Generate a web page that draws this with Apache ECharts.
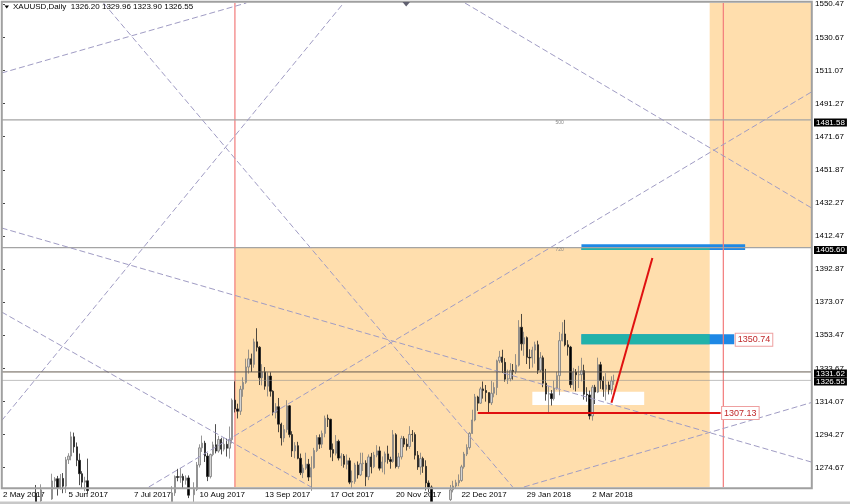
<!DOCTYPE html>
<html><head><meta charset="utf-8">
<script src="https://cdn.jsdelivr.net/npm/echarts@6/dist/echarts.min.js"></script>
<style>html,body{margin:0;padding:0;background:#fff}#c{width:850px;height:504px}</style>
</head><body><div id="c"></div>
<script>
// ---------------- data ----------------
const symbol = 'XAUUSD', timeframe = 'Daily';
const firstDate = '2017-05-02';
const skipDays = ['2017-12-25', '2018-01-01'];
const totalSlots = 297;               // trading-day slots incl. empty future space
const labelEvery = 24;                // MT4 time-scale labelling step (bars)
const yTicks = [1550.47,1530.67,1511.07,1491.27,1471.67,1451.87,1432.27,1412.47,1392.87,1373.07,1353.47,1333.67,1314.07,1294.27,1274.67];
const yMin = 1263.1, yMax = 1551.2;

// daily bars [open, high, low, close]
const may2017 = [
 [1255.4,1259.5,1251.5,1256.0],[1256.0,1257.8,1246.2,1248.3],[1248.3,1249.0,1226.9,1228.0],[1228.0,1236.6,1226.0,1227.8],
 [1227.8,1230.2,1222.0,1226.5],[1226.5,1227.0,1214.2,1216.4],[1216.4,1222.0,1215.0,1219.3],[1219.3,1227.5,1217.1,1225.4],[1225.4,1232.4,1224.6,1228.0],
 [1228.0,1236.6,1227.9,1230.6],[1230.6,1237.9,1229.6,1236.4],[1236.4,1262.8,1234.7,1259.5],[1259.5,1264.3,1245.6,1253.4],[1253.4,1258.2,1250.3,1254.8],
 [1254.8,1264.7,1253.7,1261.4],[1261.4,1262.2,1248.2,1251.4],[1251.4,1260.6,1249.9,1257.6],[1257.6,1260.7,1251.2,1256.0],[1256.0,1271.0,1255.5,1266.7],
 [1266.7,1269.0,1263.0,1268.0],[1268.0,1269.7,1258.0,1262.5],[1262.5,1270.8,1261.5,1268.2]];
const jun2017 = [
 [1268.2,1271.4,1259.4,1263.6],[1263.6,1281.0,1259.5,1279.3],
 [1279.3,1283.2,1276.8,1281.5],[1281.5,1296.0,1279.0,1293.0],[1293.0,1295.5,1283.5,1287.0],[1287.0,1289.6,1275.5,1279.0],[1279.0,1283.0,1264.2,1271.0],
 [1271.0,1272.5,1262.5,1266.0],[1266.0,1269.2,1260.6,1266.8],[1266.8,1280.0,1259.0,1261.0],[1261.0,1262.0,1250.6,1254.5],[1254.5,1257.5,1251.6,1254.6],
 [1254.6,1256.5,1243.9,1246.5],[1246.5,1249.8,1240.8,1243.8],[1243.8,1250.5,1242.5,1246.8],[1246.8,1256.0,1245.0,1250.5],[1250.5,1258.0,1249.8,1256.5],
 [1256.5,1258.0,1236.5,1245.5],[1245.5,1253.7,1244.0,1250.5],[1250.5,1254.7,1245.9,1249.6],[1249.6,1253.9,1243.8,1244.9],[1244.9,1248.6,1240.3,1241.6]];
const jul2017 = [
 [1241.6,1242.8,1218.0,1219.4],[1219.4,1227.0,1218.0,1225.6],[1225.6,1228.4,1218.5,1225.9],[1225.9,1228.5,1221.7,1222.6],[1222.6,1224.0,1204.5,1212.6],
 [1212.6,1215.0,1204.9,1213.2],[1213.2,1220.8,1208.6,1214.6],[1214.6,1223.0,1214.0,1219.4],[1219.4,1222.0,1214.4,1217.8],[1217.8,1233.0,1216.7,1228.6],
 [1228.6,1235.6,1227.6,1233.7],[1233.7,1245.2,1231.0,1241.7],[1241.7,1244.2,1237.0,1241.6],[1241.6,1247.0,1235.8,1245.0],[1245.0,1256.0,1244.0,1254.8],
 [1254.8,1259.0,1253.3,1255.2],[1255.2,1256.5,1243.6,1246.3],[1246.3,1253.2,1244.5,1249.4],[1249.4,1263.6,1248.8,1259.6],[1259.6,1270.0,1257.8,1269.3],
 [1269.3,1273.9,1266.5,1268.8]];
const aug2017 = [
 [1268.8,1274.4,1265.6,1269.4],[1269.4,1271.0,1262.5,1267.1],[1267.1,1270.0,1264.5,1268.5],[1268.5,1270.0,1256.5,1258.2],
 [1258.2,1261.8,1256.6,1258.5],[1258.5,1265.9,1251.7,1261.7],[1261.7,1278.0,1260.7,1276.2],[1276.2,1288.5,1274.7,1286.4],[1286.4,1293.7,1284.0,1289.2],
 [1289.2,1290.6,1278.0,1281.5],[1281.5,1283.3,1266.6,1269.3],[1269.3,1283.0,1268.2,1282.4],[1282.4,1290.1,1281.4,1288.2],[1288.2,1300.5,1283.1,1284.5],
 [1284.5,1293.5,1283.5,1291.4],[1291.4,1292.4,1282.5,1285.6],[1285.6,1292.2,1284.3,1288.5],[1288.5,1291.9,1281.2,1286.2],[1286.2,1299.1,1280.0,1291.3],
 [1291.3,1315.8,1289.0,1314.8],[1314.8,1326.0,1307.5,1309.6],[1309.6,1312.7,1303.9,1308.2],[1308.2,1323.3,1306.0,1321.3]];
const sep2017 = [
 [1321.3,1328.4,1316.8,1325.4],
 [1325.4,1339.5,1324.5,1334.5],[1334.5,1344.9,1330.6,1339.4],[1339.4,1342.5,1331.6,1336.1],[1336.1,1351.4,1334.1,1349.5],[1349.5,1357.6,1343.8,1346.3],
 [1346.3,1346.9,1323.8,1328.1],[1328.1,1336.2,1323.6,1331.6],[1331.6,1334.5,1321.0,1323.1],[1323.1,1331.4,1317.0,1329.1],[1329.1,1331.4,1316.9,1320.1],
 [1320.1,1320.7,1305.7,1307.4],[1307.4,1313.0,1303.9,1310.9],[1310.9,1316.1,1295.7,1300.5],[1300.5,1301.4,1287.8,1292.3],[1292.3,1300.0,1289.8,1297.3],
 [1297.3,1314.8,1295.5,1311.4],[1311.4,1311.9,1292.6,1294.3],[1294.3,1296.3,1281.0,1284.6],[1284.6,1289.8,1280.2,1287.7],[1287.7,1290.0,1279.6,1280.2]];
const oct2017 = [
 [1280.2,1283.0,1270.2,1271.6],[1271.6,1276.5,1268.4,1274.3],[1274.3,1283.5,1273.3,1276.7],[1276.7,1279.8,1266.7,1269.0],[1269.0,1281.4,1260.8,1274.6],
 [1274.6,1286.4,1274.0,1284.8],[1284.8,1294.0,1283.9,1292.5],[1292.5,1294.4,1285.8,1288.6],[1288.6,1296.7,1286.3,1295.0],[1295.0,1305.6,1292.7,1304.0],
 [1304.0,1306.2,1298.8,1303.4],[1303.4,1303.7,1280.7,1285.4],[1285.4,1289.0,1278.5,1283.2],[1283.2,1294.0,1281.9,1290.3],[1290.3,1291.3,1278.9,1280.3],
 [1280.3,1283.2,1275.6,1281.5],[1281.5,1282.7,1274.6,1276.6],[1276.6,1282.5,1273.6,1278.7],[1278.7,1280.5,1264.8,1266.0],[1266.0,1272.9,1262.2,1266.4],
 [1266.4,1277.5,1265.0,1276.2],[1276.2,1278.3,1268.1,1270.3]];
const nov2017 = [
 [1270.3,1283.5,1269.6,1277.0],[1277.0,1283.5,1272.6,1277.3],[1277.3,1279.0,1263.6,1269.2],
 [1269.2,1282.5,1267.2,1281.0],[1281.0,1283.4,1271.2,1275.2],[1275.2,1284.0,1274.3,1282.1],[1282.1,1288.0,1280.8,1284.6],[1284.6,1287.2,1272.9,1274.3],
 [1274.3,1281.3,1271.8,1278.0],[1278.0,1284.2,1270.6,1282.8],[1282.8,1287.7,1277.0,1279.4],[1279.4,1281.1,1274.0,1278.3],[1278.3,1297.0,1277.5,1294.2],
 [1294.2,1295.1,1274.2,1275.3],[1275.3,1283.4,1274.0,1281.0],[1281.0,1293.6,1279.5,1292.0],[1292.0,1293.3,1286.8,1288.6],[1288.6,1291.9,1284.8,1287.2],
 [1287.2,1299.3,1285.8,1294.4],[1294.4,1297.0,1290.0,1294.3],[1294.3,1295.6,1279.5,1282.0],[1282.0,1284.5,1273.3,1275.0]];
const dec2017 = [
 [1275.0,1283.5,1270.4,1280.0],
 [1280.0,1281.1,1271.5,1275.4],[1275.4,1279.0,1261.0,1265.5],[1265.5,1267.0,1260.0,1263.0],[1263.0,1264.0,1246.2,1248.4],[1248.4,1254.5,1243.3,1248.1],
 [1248.1,1251.0,1244.2,1246.3],[1246.3,1248.3,1236.6,1241.9],[1241.9,1257.6,1238.3,1256.9],[1256.9,1260.8,1252.4,1257.0],[1257.0,1260.2,1251.3,1255.6],
 [1255.6,1264.3,1254.8,1261.4],[1261.4,1266.8,1259.9,1263.7],[1263.7,1267.4,1262.3,1265.6],[1265.6,1270.6,1263.6,1267.0],[1267.0,1276.3,1266.2,1275.1],
 [1275.1,1284.0,1274.0,1282.7],[1282.7,1288.5,1281.5,1286.6],[1286.6,1295.8,1285.4,1295.0],[1295.0,1309.1,1294.7,1303.0]];
const jan2018 = [
 [1303.0,1318.5,1302.2,1316.7],[1316.7,1317.4,1308.4,1313.0],[1313.0,1322.7,1312.6,1321.5],[1321.5,1325.9,1315.7,1320.5],
 [1320.5,1323.8,1313.9,1319.3],[1319.3,1319.3,1306.9,1313.2],[1313.2,1326.3,1311.9,1318.9],[1318.9,1325.4,1316.5,1322.3],[1322.3,1338.9,1317.8,1338.2],
 [1338.2,1344.1,1336.8,1340.5],[1340.5,1344.8,1331.0,1337.3],[1337.3,1339.8,1325.8,1327.3],[1327.3,1333.0,1324.4,1327.5],[1327.5,1336.8,1326.0,1332.5],
 [1332.5,1336.3,1327.0,1331.9],[1331.9,1342.2,1330.4,1335.6],[1335.6,1362.4,1334.8,1358.2],[1358.2,1366.1,1344.3,1348.3],[1348.3,1355.5,1341.2,1352.0],
 [1352.0,1352.7,1336.3,1340.3],[1340.3,1345.1,1333.4,1339.9],[1339.9,1346.6,1334.2,1344.6]];
const feb2018 = [
 [1344.6,1349.6,1336.5,1347.8],[1347.8,1350.2,1330.4,1332.6],
 [1332.6,1343.4,1331.5,1340.0],[1340.0,1341.3,1322.5,1324.9],[1324.9,1333.4,1314.5,1318.4],[1318.4,1323.0,1307.1,1318.6],[1318.6,1320.8,1311.6,1315.7],
 [1315.7,1326.4,1314.6,1322.0],[1322.0,1331.7,1321.0,1329.4],[1329.4,1355.4,1317.7,1350.2],[1350.2,1361.2,1349.8,1354.2],[1354.2,1362.6,1346.8,1347.7],
 [1347.7,1350.5,1341.3,1346.4],[1346.4,1347.1,1322.1,1324.0],[1324.0,1334.0,1321.0,1331.5],[1331.5,1333.3,1320.0,1329.9],[1329.9,1335.2,1322.0,1330.0],
 [1330.0,1340.0,1326.0,1332.3],[1332.3,1335.9,1315.1,1318.3],[1318.3,1322.5,1313.9,1317.9]];
const mar2018 = [
 [1317.9,1320.5,1303.3,1305.4],[1305.4,1323.8,1302.6,1322.5],
 [1322.5,1323.9,1312.5,1319.6],[1319.6,1340.1,1319.0,1335.9],[1335.9,1337.6,1321.5,1326.4],[1326.4,1329.0,1316.8,1321.3],[1321.3,1330.9,1314.6,1323.8],
 [1323.8,1325.9,1318.2,1321.0],[1321.0,1329.0,1318.2,1326.2],[1326.20,1329.96,1323.90,1326.55]];

// chart objects (time, price anchors)
const levelLines = [['1481.58', 1481.58, '500'], ['1405.60', 1405.60, '720']];
const levelTagDate = '2018-02-14';
const askMarkPrice = 1331.62;
const zoneLower = ['2017-08-29', '2018-05-02', 1405.60];     // from, to, top price (extends down)
const zoneUpper = ['2018-05-02', 1405.60];                     // from (extends right), bottom price (extends up)
const cycleLines = ['2017-08-29', '2018-05-09'];
const gannLines = [
  ['2017-05-02', 1509.77, '2017-08-10', 1543.22],
  ['2017-08-10', 1483.64, '2017-12-22', 1299.23],
  ['2017-05-02', 1303.58, '2017-09-13', 1494.00],
  ['2017-05-02', 1417.04, '2018-05-09', 1293.11],
  ['2017-05-02', 1366.80, '2017-09-13', 1278.64],
  ['2017-08-10', 1281.08, '2018-05-09', 1466.97],
  ['2018-03-02', 1275.07, '2018-06-12', 1309.42],
  ['2018-01-29', 1529.41, '2018-06-12', 1437.21]];
const whiteBox = ['2018-01-31', 1319.8, '2018-03-29', 1311.9];
const targetBox = ['2018-02-26', 1354.0, '2018-05-15', 1348.0];
const targetPrice = 1350.74;
const topBar = ['2018-02-26', 1407.6, '2018-05-21', 1404.2];
const projection = ['2018-03-13', 1313.3, '2018-04-03', 1399.4];
const supportLine = ['2018-01-03', 1307.13, '2018-05-08', 1307.13];

// ---------------- build ----------------
const monthNames = ['Jan','Feb','Mar','Apr','May','Jun','Jul','Aug','Sep','Oct','Nov','Dec'];
function makeDates() {
  const out = [];
  const p = firstDate.split('-').map(Number);
  const d = new Date(Date.UTC(p[0], p[1]-1, p[2]));
  while (out.length < totalSlots) {
    const wd = d.getUTCDay();
    const key = d.toISOString().slice(0, 10);
    if (wd !== 0 && wd !== 6 && skipDays.indexOf(key) < 0) out.push(key);
    d.setUTCDate(d.getUTCDate() + 1);
  }
  return out;
}
const dates = makeDates();
const dateIndex = {};
dates.forEach((k, i) => dateIndex[k] = i);
const ix = k => dateIndex[k];
function fmtDate(k) {
  const p = k.split('-');
  return (+p[2]) + ' ' + monthNames[+p[1]-1] + ' ' + p[0];
}
const bars = [].concat(may2017, jun2017, jul2017, aug2017, sep2017, oct2017, nov2017, dec2017, jan2018, feb2018, mar2018);
const lastIdx = bars.length - 1;
const candleData = bars.map(b => [b[0], b[3], b[2], b[1]]);
const last = bars[lastIdx];

const X0 = -0.5, X1 = totalSlots - 0.5;
const FONT = '"Liberation Sans", Arial, sans-serif';
const ORANGE = '#FFDEAD', TEAL = '#22b2a9', BLUE = '#1e88e5';
const clampX = x => Math.max(X0, Math.min(X1, x));
const clampY = y => Math.max(yMin, Math.min(yMax, y));

function rect(api, x0, p0, x1, p1, fill) {
  const a = api.coord([clampX(x0), clampY(p0)]);
  const b = api.coord([clampX(x1), clampY(p1)]);
  return {type: 'rect', shape: {x: Math.min(a[0], b[0]), y: Math.min(a[1], b[1]),
    width: Math.abs(b[0]-a[0]), height: Math.abs(b[1]-a[1])}, style: {fill: fill}};
}
function seg(api, i1, p1, i2, p2, style) {
  const a = api.coord([i1, p1]), b = api.coord([i2, p2]);
  return {type: 'line', shape: {x1: a[0], y1: a[1], x2: b[0], y2: b[1]}, style: style};
}
function clipLine(i1, p1, i2, p2) {
  const m = (p2 - p1) / (i2 - i1);
  let xa = X0, xb = X1;
  if (m !== 0) {
    const u = i1 + (yMin - p1) / m, v = i1 + (yMax - p1) / m;
    xa = Math.max(xa, Math.min(u, v));
    xb = Math.min(xb, Math.max(u, v));
  }
  if (xa >= xb) return null;
  return [xa, p1 + m * (xa - i1), xb, p1 + m * (xb - i1)];
}

function renderBack(params, api) {
  const k = [];
  const zR = ix(zoneLower[1]);
  k.push(rect(api, ix(zoneLower[0]), -Infinity, zR, zoneLower[2], ORANGE));
  k.push(rect(api, ix(zoneUpper[0]), zoneUpper[1], Infinity, Infinity, ORANGE));
  k.push(rect(api, ix(whiteBox[0]), whiteBox[1], ix(whiteBox[2]), whiteBox[3], '#ffffff'));
  // target box (blue, teal where it lies over the zone)
  k.push(rect(api, ix(targetBox[0]), targetBox[1], ix(targetBox[2]), targetBox[3], BLUE));
  k.push(rect(api, ix(targetBox[0]), targetBox[1], zR, targetBox[3], TEAL));
  // top bar
  k.push(rect(api, ix(topBar[0]), topBar[1], ix(topBar[2]), topBar[3], BLUE));
  k.push(rect(api, ix(topBar[0]), zoneLower[2], zR, topBar[3], TEAL));
  // cycle lines
  cycleLines.forEach(d => k.push(seg(api, ix(d), yMin, ix(d), yMax, {stroke: '#f27a7a', lineWidth: 1.2})));
  // level lines
  levelLines.forEach(l => {
    k.push(seg(api, X0, l[1], X1, l[1], {stroke: '#a4a4a4', lineWidth: 1.3}));
    const p = api.coord([ix(levelTagDate), l[1]]);
    k.push({type: 'text', x: p[0], y: p[1] + 2.5, style: {text: l[2], fill: '#888', fontSize: 5, fontFamily: FONT, align: 'center', verticalAlign: 'middle'}});
  });
  return {type: 'group', children: k};
}

function boxLabel(api, price, dy, text) {
  const p = api.coord([X1, price]);
  return {type: 'text', x: p[0] + 2, y: p[1] + dy, z2: 10,
    style: {text: text, fill: '#fff', backgroundColor: '#000', padding: [0, 2], lineHeight: 8,
      fontSize: 8, fontFamily: FONT, align: 'left', verticalAlign: 'middle'}};
}
function redLabel(api, i, price, text) {
  const p = api.coord([i, price]);
  return {type: 'text', x: p[0] + 1.5, y: p[1], z2: 10,
    style: {text: text, fill: '#c0282a', backgroundColor: '#fff', borderColor: '#eea0a0', borderWidth: 1,
      padding: [1, 2], lineHeight: 10, fontSize: 9, fontFamily: FONT, align: 'left', verticalAlign: 'middle'}};
}

function renderFront(params, api) {
  const k = [];
  gannLines.forEach(g => {
    const c = clipLine(ix(g[0]), g[1], ix(g[2]), g[3]);
    if (c) k.push(seg(api, c[0], c[1], c[2], c[3], {stroke: '#a09cc4', lineWidth: 1, lineDash: [6, 3]}));
  });
  k.push(seg(api, X0, last[3], X1, last[3], {stroke: 'rgba(140,140,140,0.55)', lineWidth: 1}));
  k.push(seg(api, X0, askMarkPrice, X1, askMarkPrice, {stroke: 'rgba(95,85,75,0.55)', lineWidth: 1.8}));
  k.push(seg(api, ix(supportLine[0]), supportLine[1], ix(supportLine[2]), supportLine[3], {stroke: '#e01010', lineWidth: 2}));
  k.push(seg(api, ix(projection[0]), projection[1], ix(projection[2]), projection[3], {stroke: '#e01010', lineWidth: 2}));
  // labels
  levelLines.forEach(l => k.push(boxLabel(api, l[1], 2.5, l[0])));
  k.push(boxLabel(api, last[3], 1, last[3].toFixed(2)));
  k.push(boxLabel(api, askMarkPrice, 1.5, askMarkPrice.toFixed(2)));
  k.push(redLabel(api, ix(targetBox[2]), targetPrice, targetPrice.toFixed(2)));
  k.push(redLabel(api, ix(supportLine[2]), supportLine[1], supportLine[1].toFixed(2)));
  return {type: 'group', children: k};
}

const chart = echarts.init(document.getElementById('c'), null, {renderer: 'canvas'});
chart.setOption({
  animation: false,
  backgroundColor: '#ffffff',
  title: {
    text: symbol + ',' + timeframe + '  ' + last.map(v => v.toFixed(2)).join(' '),
    left: 13, top: 3, padding: 0,
    textStyle: {fontSize: 8, fontWeight: 'normal', color: '#000', fontFamily: FONT}
  },
  grid: {left: 0, right: 38, top: 3, bottom: 17},
  xAxis: [{
    type: 'category', data: dates, boundaryGap: true,
    axisLine: {show: false}, axisTick: {show: false}, splitLine: {show: false},
    axisLabel: {
      interval: (i) => i % labelEvery === 0 && i <= lastIdx,
      formatter: v => fmtDate(v), align: 'left', margin: 4,
      fontSize: 8, color: '#000', fontFamily: FONT
    }
  }, {
    type: 'value', min: X0, max: X1, show: false
  }],
  yAxis: {
    type: 'value', position: 'right', min: yMin, max: yMax, scale: true,
    splitLine: {show: false}, axisLine: {show: false},
    axisTick: {show: true, customValues: yTicks, length: 2, lineStyle: {color: '#444'}},
    axisLabel: {customValues: yTicks, formatter: v => v.toFixed(2), margin: 3, fontSize: 8, color: '#000', fontFamily: FONT}
  },
  series: [{
    type: 'custom', xAxisIndex: 1, yAxisIndex: 0, z: 1, silent: true, clip: false,
    data: [[0, 1400]], renderItem: renderBack
  }, {
    type: 'candlestick', xAxisIndex: 0, yAxisIndex: 0, z: 2, clip: true,
    data: candleData, barWidth: 1.8,
    itemStyle: {color: '#d4d4d4', color0: '#000000', borderColor: '#7c7c7c', borderColor0: '#222222', borderWidth: 0.8}
  }, {
    type: 'custom', xAxisIndex: 1, yAxisIndex: 0, z: 3, silent: true, clip: false,
    data: [[0, 1400]], renderItem: renderFront
  }],
  graphic: [
    {type: 'rect', silent: true, z: 100, shape: {x: 1.8, y: 1.8, width: 810, height: 486.5}, style: {fill: null, stroke: '#a0a0a0', lineWidth: 2}},
    {type: 'polygon', silent: true, z: 100, shape: {points: [[4.5, 5.5], [9, 5.5], [6.75, 8.5]]}, style: {fill: '#000'}},
    {type: 'polygon', silent: true, z: 100, shape: {points: [[402.5, 2], [410, 2], [406.2, 6.5]]}, style: {fill: '#606070'}},
    {type: 'rect', silent: true, z: 100, shape: {x: 0, y: 501.5, width: 850, height: 3}, style: {fill: '#c8c8c8'}}
  ]
});
</script>
</body></html>
